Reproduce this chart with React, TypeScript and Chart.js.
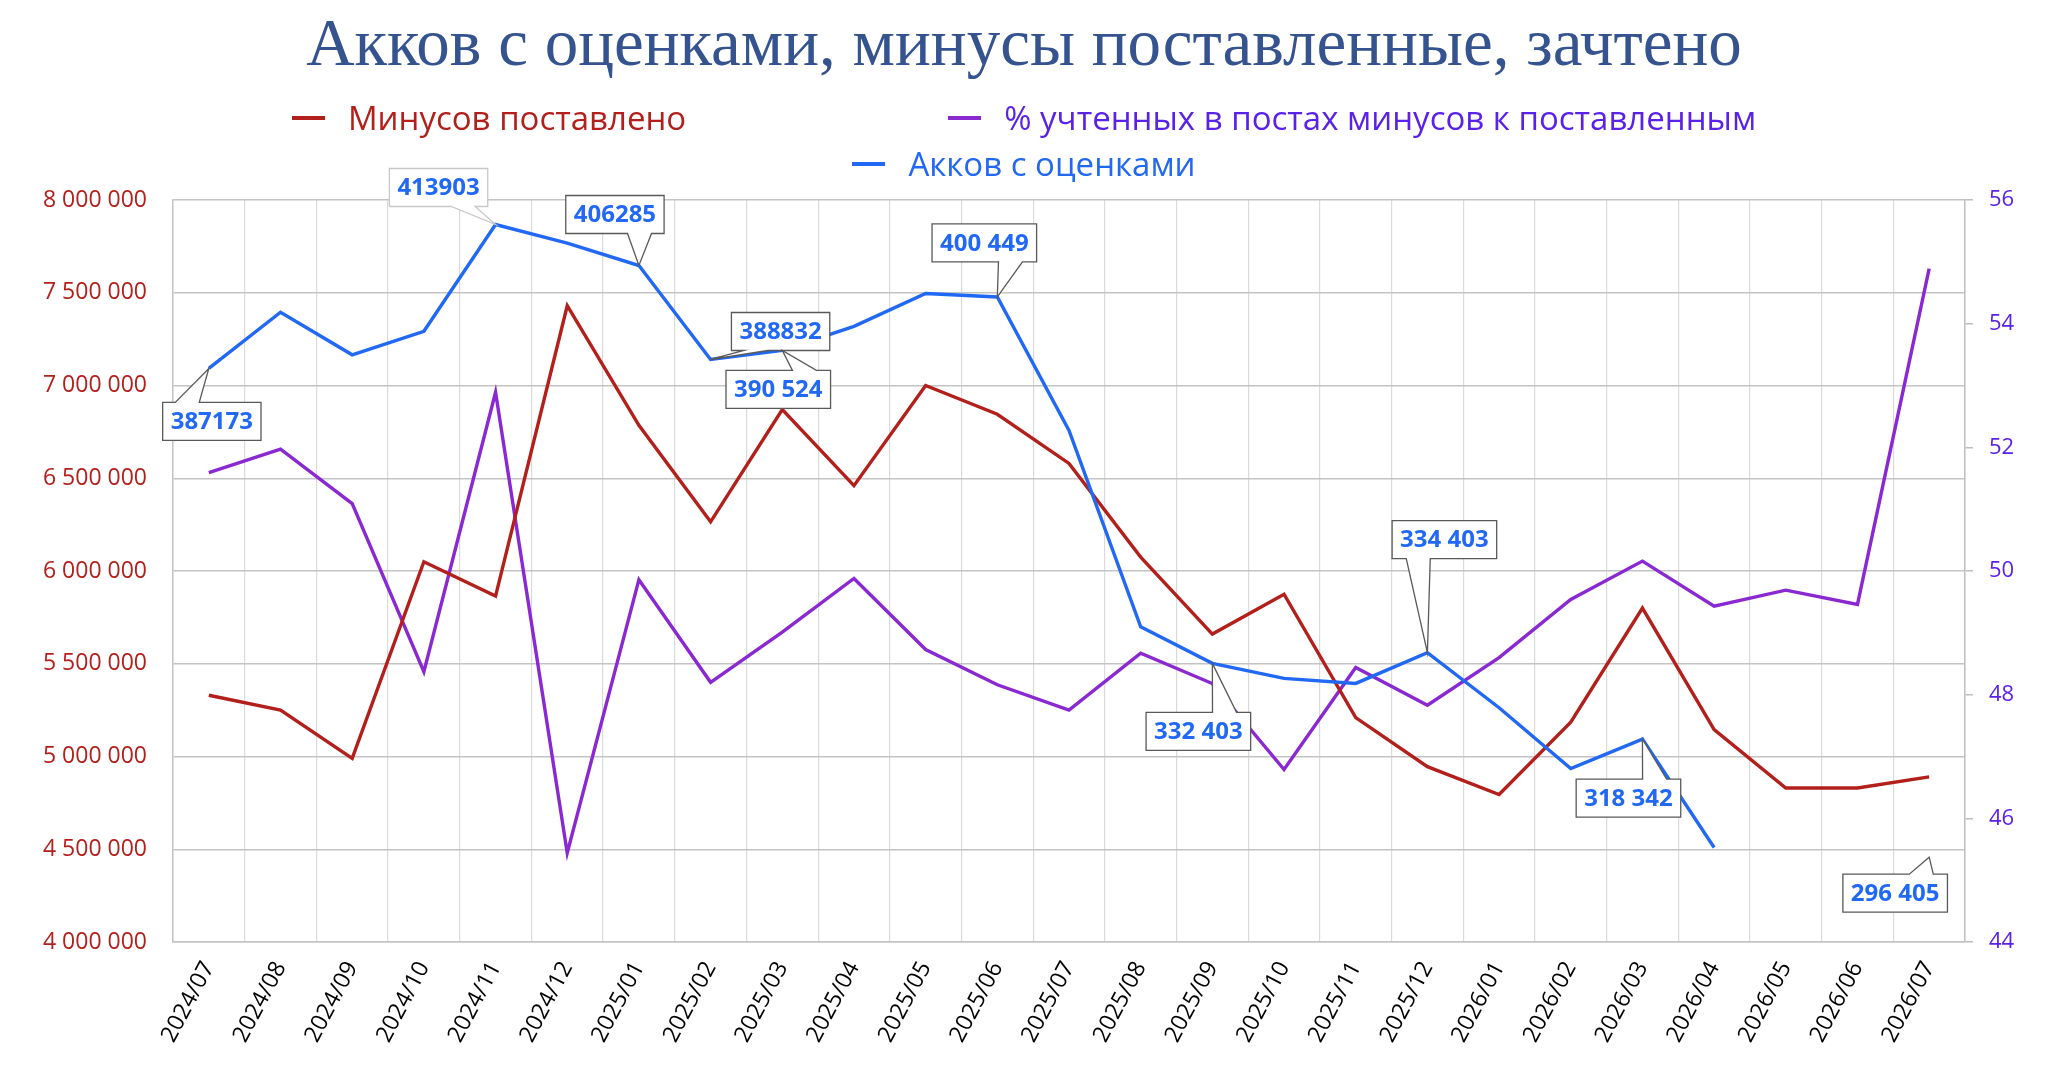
import { useEffect, useRef } from 'react'
import { Chart, registerables } from 'chart.js'

Chart.register(...registerables)

const months = [
  '2024/07', '2024/08', '2024/09', '2024/10', '2024/11', '2024/12',
  '2025/01', '2025/02', '2025/03', '2025/04', '2025/05', '2025/06',
  '2025/07', '2025/08', '2025/09', '2025/10', '2025/11', '2025/12',
  '2026/01', '2026/02', '2026/03', '2026/04', '2026/05', '2026/06', '2026/07',
]

const seriesNames = [
  'Минусов поставлено',
  '% учтенных в постах минусов к поставленным',
  'Акков с оценками',
]

// left axis
const minusesGiven = [
  5330000, 5250000, 4990000, 6050000, 5865000, 7430000,
  6785000, 6265000, 6870000, 6460000, 7000000, 6845000,
  6580000, 6075000, 5660000, 5875000, 5210000, 4945000,
  4795000, 5185000, 5800000, 5145000, 4830000, 4830000, 4890000,
]

// right axis, %
const countedPct = [
  51.59, 51.97, 51.09, 48.37, 52.89, 45.44,
  49.86, 48.2, 49.01, 49.88, 48.73, 48.16,
  47.75, 48.67, 48.18, 46.79, 48.44, 47.83,
  48.6, 49.54, 50.16, 49.43, 49.69, 49.46, 54.89,
]

// hidden axis
const accountsRated = [
  387173, 397600, 389700, 394070, 413903, 410430,
  406285, 388832, 390524, 394980, 401090, 400449,
  375640, 339190, 332403, 329610, 328680, 334403,
  324160, 312860, 318342, 298200, null, null, 296405,
]

const calloutIndex = [0, 4, 6, 7, 8, 11, 14, 17, 20, 24]
const calloutText = ['387173', '413903', '406285', '388832', '390 524', '400 449', '332 403', '334 403', '318 342', '296 405']

// box centre relative to the point, px
const calloutOffset = [
  [3, 53], [-57, -37], [-24, -51], [70, -28], [-4, 39],
  [-13, -54], [-14, 68], [17, -113], [-14, 59], [-34, 36],
]
const calloutBorder = ['#595959', '#c8c8c8', '#595959', '#595959', '#595959', '#595959', '#595959', '#595959', '#595959', '#595959']

const RED = '#b3201c'
const PURPLE = '#8a28d2'
const VIOLET = '#5a21e8'
const BLUE = '#2168f4'
const SANS = '"Open Sans", "Noto Sans", sans-serif'

const fmt = (v: number) => String(Math.round(v)).replace(/\B(?=(\d{3})+(?!\d))/g, ' ')

const calloutPlugin = {
  id: 'callouts',
  afterDatasetsDraw(chart: any) {
    const meta = chart.getDatasetMeta(2)
    const ctx = chart.ctx as CanvasRenderingContext2D
    ctx.save()
    ctx.font = `bold 24px ${SANS}`
    calloutIndex.forEach((idx, k) => {
      const pt = meta.data[idx]
      if (!pt) return
      const px = pt.x
      const py = pt.y
      const w = ctx.measureText(calloutText[k]).width + 16
      const h = 38
      const cx = px + calloutOffset[k][0]
      const cy = py + calloutOffset[k][1]
      const l = cx - w / 2
      const r = cx + w / 2
      const t = cy - h / 2
      const b = cy + h / 2
      const bc = cx + Math.sign(px - cx || -1) * w / 4
      ctx.beginPath()
      if (py > b) {
        ctx.moveTo(l, t)
        ctx.lineTo(r, t)
        ctx.lineTo(r, b)
        ctx.lineTo(bc + 12, b)
        ctx.lineTo(px, py)
        ctx.lineTo(bc - 12, b)
        ctx.lineTo(l, b)
      } else {
        ctx.moveTo(l, t)
        ctx.lineTo(bc - 12, t)
        ctx.lineTo(px, py)
        ctx.lineTo(bc + 12, t)
        ctx.lineTo(r, t)
        ctx.lineTo(r, b)
        ctx.lineTo(l, b)
      }
      ctx.closePath()
      ctx.fillStyle = '#ffffff'
      ctx.fill()
      ctx.lineWidth = 1.3
      ctx.strokeStyle = calloutBorder[k]
      ctx.stroke()
      ctx.fillStyle = BLUE
      ctx.textAlign = 'center'
      ctx.textBaseline = 'middle'
      ctx.fillText(calloutText[k], cx, cy + 1)
    })
    ctx.restore()
  },
}

function LegendItem({ name, line, text }: { name: string; line: string; text: string }) {
  return (
    <div style={{ display: 'flex', alignItems: 'center' }}>
      <span style={{ display: 'inline-block', width: 33, height: 4, background: line, marginRight: 23 }} />
      <span style={{ color: text, fontFamily: SANS, fontSize: 33, lineHeight: '46px', whiteSpace: 'nowrap' }}>{name}</span>
    </div>
  )
}

export default function App() {
  const ref = useRef<HTMLCanvasElement>(null)

  useEffect(() => {
    document.body.style.margin = '0'
    if (!ref.current) return
    const chart = new Chart(ref.current, {
      type: 'line',
      data: {
        labels: months,
        datasets: [
          { label: seriesNames[0], data: minusesGiven, yAxisID: 'y', borderColor: RED, borderWidth: 3.4, pointRadius: 0, order: 2 },
          { label: seriesNames[1], data: countedPct, yAxisID: 'yPct', borderColor: PURPLE, borderWidth: 3.4, pointRadius: 0, order: 3 },
          { label: seriesNames[2], data: accountsRated, yAxisID: 'yAcc', borderColor: BLUE, borderWidth: 3.4, pointRadius: 0, order: 1, spanGaps: false },
        ],
      },
      options: {
        responsive: false,
        animation: false,
        devicePixelRatio: 1,
        layout: { padding: { top: 200, left: 0, right: 0, bottom: 0 } },
        plugins: { legend: { display: false }, title: { display: false }, tooltip: { enabled: false } },
        elements: { line: { tension: 0 } },
        scales: {
          x: {
            offset: true,
            grid: { offset: true, color: '#dadada', lineWidth: 1.2, drawTicks: false },
            border: { color: '#c4c4c4', width: 1.5 },
            ticks: { color: '#000', font: { family: SANS, size: 23 }, minRotation: 62, maxRotation: 62, autoSkip: false, padding: 15 },
            afterFit: (s: any) => { s.height = 130 },
          },
          y: {
            position: 'left',
            min: 4000000,
            max: 8000000,
            ticks: { stepSize: 500000, color: RED, font: { family: SANS, size: 23 }, padding: 26, callback: (v: any) => fmt(Number(v)) },
            grid: { color: '#c4c4c4', lineWidth: 1.5, drawTicks: false },
            border: { color: '#c4c4c4', width: 1.5 },
            afterFit: (s: any) => { s.width = 173 },
          },
          yPct: {
            position: 'right',
            min: 44,
            max: 56,
            ticks: { stepSize: 2, color: VIOLET, font: { family: SANS, size: 22 }, padding: 16 },
            grid: { drawOnChartArea: false, drawTicks: true, tickLength: 8, color: '#bfbfbf', lineWidth: 1.5 },
            border: { color: '#bfbfbf', width: 1.5 },
            afterFit: (s: any) => { s.width = 83 },
          },
          yAcc: { display: false, min: 280660, max: 418450 },
        },
      },
      plugins: [calloutPlugin],
    })
    return () => chart.destroy()
  }, [])

  return (
    <div style={{ position: 'absolute', left: 0, top: 0, width: 2048, height: 1072, background: '#fff' }}>
      <canvas ref={ref} width={2048} height={1072} style={{ position: 'absolute', left: 0, top: 0 }} />
      <div style={{ position: 'absolute', top: 2, left: 0, width: 2048, height: 80, lineHeight: '80px', textAlign: 'center', fontFamily: '"Liberation Serif", serif', fontSize: 67, color: '#34538f' }}>
        Акков с оценками, минусы поставленные, зачтено
      </div>
      <div style={{ position: 'absolute', top: 95, left: 0, width: 2048, display: 'flex', justifyContent: 'center', gap: 262 }}>
        <LegendItem name={seriesNames[0]} line={RED} text={RED} />
        <LegendItem name={seriesNames[1]} line={PURPLE} text={VIOLET} />
      </div>
      <div style={{ position: 'absolute', top: 141, left: 0, width: 2048, display: 'flex', justifyContent: 'center' }}>
        <LegendItem name={seriesNames[2]} line={BLUE} text={BLUE} />
      </div>
    </div>
  )
}
